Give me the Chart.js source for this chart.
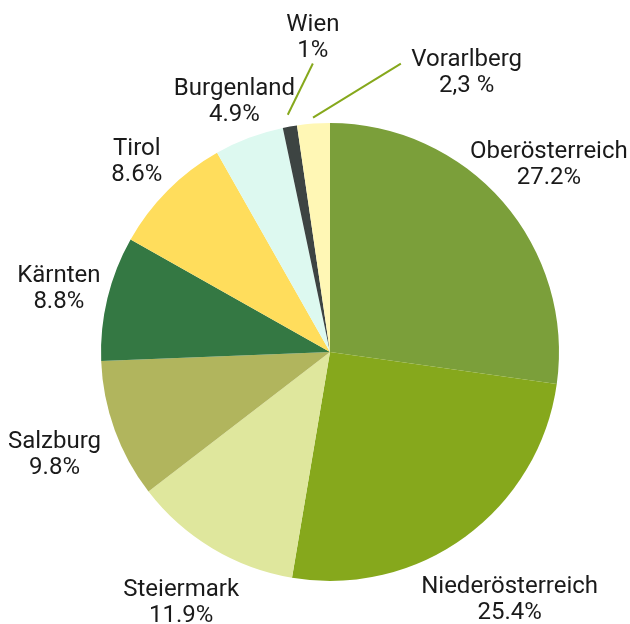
<!DOCTYPE html>
<html>
  <head>
    <title>Chart</title>
    <meta charset="UTF-8">
    <script src="https://cdn.jsdelivr.net/npm/chart.js@4/dist/chart.umd.min.js"></script>
    <style>
      body { margin: 0; background: #fff; }
    </style>
  </head>
  <body>
    <canvas id="chart" width="630" height="624"></canvas>
    <script>
        const regions = ['Oberösterreich', 'Niederösterreich', 'Steiermark', 'Salzburg', 'Kärnten', 'Tirol', 'Burgenland', 'Wien', 'Vorarlberg']
        const shares = [27.2, 25.4, 11.9, 9.8, 8.8, 8.6, 4.9, 1, 2.3]
        const shareLabels = ['27.2%', '25.4%', '11.9%', '9.8%', '8.8%', '8.6%', '4.9%', '1%', '2,3 %']
        const colors = ['#7b9f3a', '#86a81c', '#dfe79d', '#b1b55d', '#347843', '#ffdd5c', '#ddf9f0', '#3d4442', '#fff7b5']

        // label distance from the pie edge; leader lines for the two tiny slices
        const labelGap = [61, 75, 60, 64, 50, 44, 41, 0, 0]
        const leaders = {
            7: { from: 12, toAngle: 356.6, toDist: 60, labelAngle: 356.9, labelDist: 88 },
            8: { from: 6, toAngle: 13.8, toDist: 68, labelAngle: 25.9, labelDist: 84 }
        }

        const sliceLabels = {
            id: 'sliceLabels',
            afterDraw(chart) {
                const ctx = chart.ctx
                const arcs = chart.getDatasetMeta(0).data
                ctx.save()
                ctx.font = '24px Roboto'
                ctx.fillStyle = '#1a1a1a'
                ctx.textAlign = 'center'
                ctx.textBaseline = 'alphabetic'
                arcs.forEach((arc, i) => {
                    const cx = arc.x, cy = arc.y, r = arc.outerRadius
                    const mid = (arc.startAngle + arc.endAngle) / 2
                    let lx, ly
                    if (leaders[i]) {
                        const l = leaders[i]
                        const a2 = (l.toAngle - 90) * Math.PI / 180
                        const a3 = (l.labelAngle - 90) * Math.PI / 180
                        ctx.strokeStyle = '#86a81c'
                        ctx.lineWidth = 2
                        ctx.beginPath()
                        ctx.moveTo(cx + Math.cos(mid) * (r + l.from), cy + Math.sin(mid) * (r + l.from))
                        ctx.lineTo(cx + Math.cos(a2) * (r + l.toDist), cy + Math.sin(a2) * (r + l.toDist))
                        ctx.stroke()
                        lx = cx + Math.cos(a3) * (r + l.labelDist)
                        ly = cy + Math.sin(a3) * (r + l.labelDist)
                    } else {
                        lx = cx + Math.cos(mid) * (r + labelGap[i])
                        ly = cy + Math.sin(mid) * (r + labelGap[i])
                    }
                    ctx.fillText(regions[i], lx, ly - 4)
                    ctx.fillText(shareLabels[i], lx, ly + 22)
                })
                ctx.restore()
            }
        }

        new Chart(document.getElementById('chart'), {
            type: 'pie',
            data: {
                labels: regions,
                datasets: [{
                    data: shares,
                    backgroundColor: colors,
                    borderWidth: 0
                }]
            },
            options: {
                responsive: false,
                animation: false,
                layout: { padding: { left: 101, right: 71, top: 123, bottom: 43 } },
                plugins: {
                    legend: { display: false },
                    tooltip: { enabled: false }
                }
            },
            plugins: [sliceLabels]
        })
    </script>
  </body>
</html>
